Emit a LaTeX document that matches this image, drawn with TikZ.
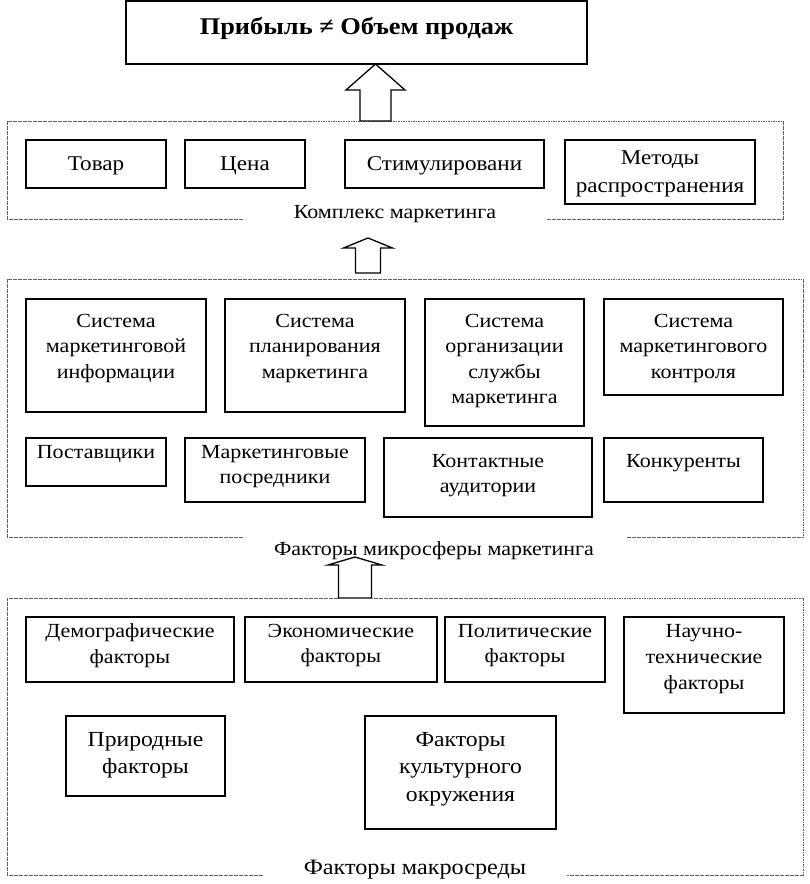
\documentclass[tikz,border=0pt]{standalone}
\usepackage{fontspec}
\setmainfont{Liberation Serif}[FakeStretch=1.1]
\usetikzlibrary{fit,calc}
\tikzset{
 box/.style={draw=black, line width=1.4pt, inner sep=0pt, outer sep=0pt},
 txt/.style={inner sep=0pt, outer sep=0pt, align=center, font=\fontsize{20}{25.3}\selectfont},
 txtA/.style={txt, font=\fontsize{21}{28}\selectfont},
 txtB/.style={txt, font=\fontsize{21.5}{27.5}\selectfont},
 ttl/.style={txt, font=\bfseries\fontsize{24}{28}\selectfont},
 grp/.style={draw=black!62, line width=1pt, dash pattern=on 1.6pt off 0.9pt},
 hollow/.style={draw=black, fill=white, line width=1.3pt, line join=miter},
}
\newcommand\bx[5]{\node[box, fit={(#2,#3) (#4,#5)}] (#1) {};}
\newcommand\blockup[5]{%
 \draw[hollow] ($(#1)+(-#3,0)$) -- ($(#1 |- #2)+(-#3,#5)$) -- ($(#1 |- #2)+(-#4,#5)$) -- (#1 |- #2) -- ($(#1 |- #2)+(#4,#5)$) -- ($(#1 |- #2)+(#3,#5)$) -- ($(#1)+(#3,0)$) -- cycle;}
\begin{document}
\begin{tikzpicture}[x=1pt,y=-1pt]
\fill[white] (0,0) rectangle (810,884);
\useasboundingbox (0,0) rectangle (810,884);
% title
\bx{title}{126}{1}{587}{64}
\node[ttl] (title-t) at ($(title.center)+(0,-4)$) {Прибыль ≠ Объем продаж};
% group 1
\draw[grp] (243,219) -- (7,219) -- (7,121) -- (783,121) -- (783,219) -- (547,219);
\node[txt] (g1-l) at (395,214) {Комплекс маркетинга};
\coordinate (a1b) at (375.5,121);
\blockup{a1b}{title.south}{15.5}{29.5}{26}
\bx{tovar}{26}{140}{166}{188}
\node[txtA] (tovar-t) at ($(tovar.center)+(0,1.5)$) {Товар};
\bx{cena}{185}{140}{305}{188}
\node[txtA] (cena-t) at ($(cena.center)+(0,1.5)$) {Цена};
\bx{stim}{345}{140}{544}{188}
\node[txtA] (stim-t) at ($(stim.center)+(0,1.5)$) {Стимулировани};
\bx{metod}{565}{140}{755}{204}
\node[txtA] (metod-t) at ($(metod.center)+(0,1.5)$) {Методы\\распространения};
% arrow 2
\coordinate (a2b) at (368,273);
\coordinate (a2t) at (368,238);
\blockup{a2b}{a2t}{12.5}{24.5}{10}
% group 2
\draw[grp] (243,537) -- (7,537) -- (7,279) -- (803,279) -- (803,537) -- (627,537);
\bx{smi}{26}{299}{206}{412}
\node[txt, anchor=north] (smi-t) at ($(smi.north)+(0,15.4)$) {Система\\маркетинговой\\информации};
\bx{spm}{225}{299}{405}{412}
\node[txt, anchor=north] (spm-t) at ($(spm.north)+(0,15.4)$) {Система\\планирования\\маркетинга};
\bx{sosm}{425}{299}{584}{426}
\node[txt, anchor=north] (sosm-t) at ($(sosm.north)+(0,15.4)$) {Система\\организации\\службы\\маркетинга};
\bx{smk}{604}{299}{783}{395}
\node[txt, anchor=north] (smk-t) at ($(smk.north)+(0,15.4)$) {Система\\маркетингового\\контроля};
\bx{post}{26}{438}{166}{486}
\node[txt, anchor=north] (post-t) at ($(post.north)+(0,7)$) {Поставщики};
\bx{mp}{185}{438}{365}{502}
\node[txt, anchor=north] (mp-t) at ($(mp.north)+(0,7)$) {Маркетинговые\\посредники};
\bx{ka}{384}{438}{592}{517}
\node[txt, anchor=north] (ka-t) at ($(ka.north)+(0,16)$) {Контактные\\аудитории};
\bx{konk}{604}{438}{763}{502}
\node[txt, anchor=north] (konk-t) at ($(konk.north)+(0,16)$) {Конкуренты};
% arrow 3
\coordinate (a3b) at (355,598);
\coordinate (a3t) at (355,557);
\blockup{a3b}{a3t}{16.5}{27}{8}
\node[txt] (g2-l) at (434,551) {Факторы микросферы маркетинга};
% group 3
\draw[grp] (263,875) -- (7,875) -- (7,598) -- (803,598) -- (803,875) -- (567,875);
\node[txt, font=\fontsize{22}{26}\selectfont] (g3-l) at (415,870) {Факторы макросреды};
\bx{dem}{26}{617}{234}{682}
\node[txt, anchor=north] (dem-t) at ($(dem.north)+(0,7)$) {Демографические\\факторы};
\bx{econ}{245}{617}{437}{682}
\node[txt, anchor=north] (econ-t) at ($(econ.north)+(0,7)$) {Экономические\\факторы};
\bx{polit}{445}{617}{605}{682}
\node[txt, anchor=north] (polit-t) at ($(polit.north)+(0,7)$) {Политические\\факторы};
\bx{nauch}{624}{617}{784}{713}
\node[txt, anchor=north, font=\fontsize{20}{26}\selectfont] (nauch-t) at ($(nauch.north)+(0,7)$) {Научно-\\технические\\факторы};
\bx{prir}{66}{716}{225}{796}
\node[txtB, anchor=north] (prir-t) at ($(prir.north)+(0,16)$) {Природные\\факторы};
\bx{kult}{365}{716}{556}{829}
\node[txtB, anchor=north] (kult-t) at ($(kult.north)+(0,16)$) {Факторы\\культурного\\окружения};
\end{tikzpicture}
\end{document}
